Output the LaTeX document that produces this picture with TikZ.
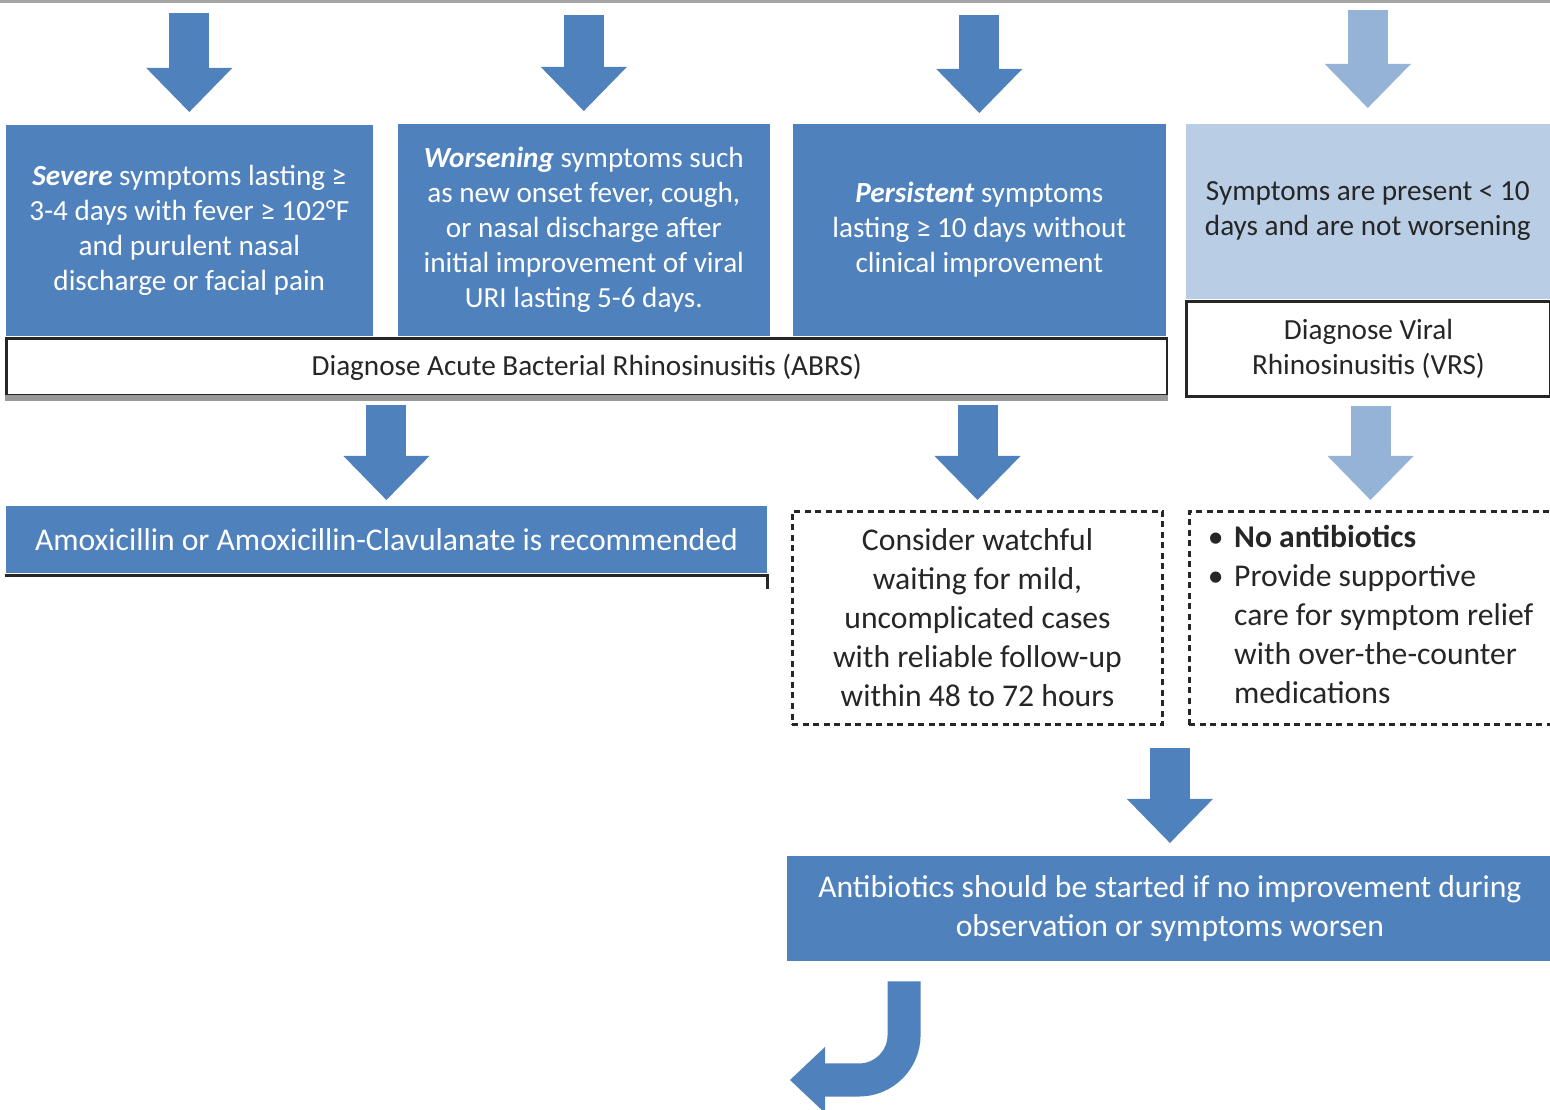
\documentclass[tikz,border=0pt]{standalone}
\usepackage{fontspec}
\setmainfont{Carlito}
\usetikzlibrary{positioning,arrows.meta}
\definecolor{abrsblue}{HTML}{4F81BD}
\definecolor{vrsarrow}{HTML}{95B3D7}
\definecolor{vrsfill}{HTML}{B9CDE5}
\newcommand{\uppersize}{\fontsize{8.3}{10}\selectfont}
\newcommand{\lowersize}{\fontsize{9}{11.1}\selectfont}
\tikzset{
	flow/.style={x=0.01cm,y=-0.01cm},
	bluebox/.style={anchor=north west,inner sep=0pt,fill=abrsblue,text=white,align=center,font=\uppersize},
	palebox/.style={bluebox,fill=vrsfill,text=black!85},
	outbox/.style={anchor=north west,inner sep=0pt,fill=white,draw=black!85,line width=0.8pt,text=black!85,align=center,font=\uppersize},
	waitbox/.style={outbox,dash pattern=on 0.6mm off 0.45mm,font=\lowersize},
	bigarrow/.style={draw=abrsblue,line width=4mm,-{Triangle[length=4.4mm,width=8.6mm,line width=0pt]}},
	palearrow/.style={bigarrow,draw=vrsarrow},
	hookarrow/.style={draw=abrsblue,line width=3.3mm,rounded corners=4.5mm,-{Triangle[length=3.5mm,width=6.6mm,line width=0pt]}}
}

\begin{document}
\begin{tikzpicture}[flow]
	\clip (0,0) rectangle (1550,1110);
	\fill[white] (0,0) rectangle (1550,1110);
	\draw[gray!70,line width=1pt] (0,1) -- (1550,1);
	
	% first row
	\node[bluebox,minimum width=3.67cm,minimum height=2.11cm] (severe) at (5,124) {\textbf{\textit{Severe}} symptoms lasting ≥\\3-4 days with fever ≥ 102°F\\and purulent nasal\\discharge or facial pain};
	\node[bluebox,minimum width=3.72cm,minimum height=2.12cm] (worse) at (397,123) {\textbf{\textit{Worsening}} symptoms such\\as new onset fever, cough,\\or nasal discharge after\\initial improvement of viral\\URI lasting 5-6 days.};
	\node[bluebox,minimum width=3.73cm,minimum height=2.12cm] (persist) at (792,123) {\textbf{\textit{Persistent}} symptoms\\lasting ≥ 10 days without\\clinical improvement};
	\node[palebox,minimum width=3.64cm,minimum height=1.75cm] (present) at (1185,123) {Symptoms are present < 10\\days and are not worsening};
	\node[outbox,minimum width=11.6cm,minimum height=0.57cm] (abrs) at (5,337) {Diagnose Acute Bacterial Rhinosinusitis (ABRS)};
	\node[outbox,minimum width=3.64cm,minimum height=0.95cm] (vrs) at (1185,300) {Diagnose Viral\\Rhinosinusitis (VRS)};
	\draw[gray!80,line width=1.6pt] ([yshift=-0.1mm]abrs.south west) -- ([yshift=-0.1mm]abrs.south east);
	
	% second row
	\node[bluebox,font=\lowersize,minimum width=7.61cm,minimum height=0.67cm] (amox) at (5,505) {Amoxicillin or Amoxicillin-Clavulanate is recommended};
	\node[waitbox,minimum width=3.7cm,minimum height=2.13cm] (watch) at (791,510) {Consider watchful\\waiting for mild,\\uncomplicated cases\\with reliable follow-up\\within 48 to 72 hours};
	\node[waitbox,minimum width=3.62cm,minimum height=2.13cm] (noabx) at (1188,510) {\begin{tabular}{@{}l@{\hspace{3pt}}l@{}}
		\textbullet & \textbf{No antibiotics}\\
		\textbullet & Provide supportive\\
		& care for symptom relief\\
		& with over-the-counter\\
		& medications
	\end{tabular}};
	\node[bluebox,font=\lowersize,minimum width=7.66cm,minimum height=1.05cm] (anti) at (786,855) {Antibiotics should be started if no improvement during\\observation or symptoms worsen};
	\draw[black!85,line width=0.8pt] ([yshift=-0.2mm]amox.south west) -- ([yshift=-0.2mm]amox.south east) -- ++(0,14);
	\coordinate (hook) at ([xshift=1.18cm]anti.south west);
	\coordinate (hookend) at (790,1080);
	
	\draw[bigarrow,shorten >=1.2mm] (severe.north |- 0,13) -- (severe.north);
	\draw[bigarrow,shorten >=1.2mm] (worse.north |- 0,15) -- (worse.north);
	\draw[bigarrow,shorten >=1.0mm] (persist.north |- 0,15) -- (persist.north);
	\draw[palearrow,shorten >=1.5mm] (present.north |- 0,10) -- (present.north);
	\draw[bigarrow,shorten <=0.8mm,shorten >=0.5mm] (amox.north |- abrs.south) -- (amox.north);
	\draw[bigarrow,shorten <=0.8mm,shorten >=1.0mm] (watch.north |- abrs.south) -- (watch.north);
	\draw[palearrow,shorten <=0.8mm,shorten >=1.0mm] (noabx.north |- vrs.south) -- (noabx.north);
	\draw[bigarrow,shorten <=2.2mm,shorten >=1.2mm] (anti.north |- watch.south) -- (anti.north);
	\draw[hookarrow,shorten <=2mm] (hook) |- (hookend);
\end{tikzpicture}
\end{document}
